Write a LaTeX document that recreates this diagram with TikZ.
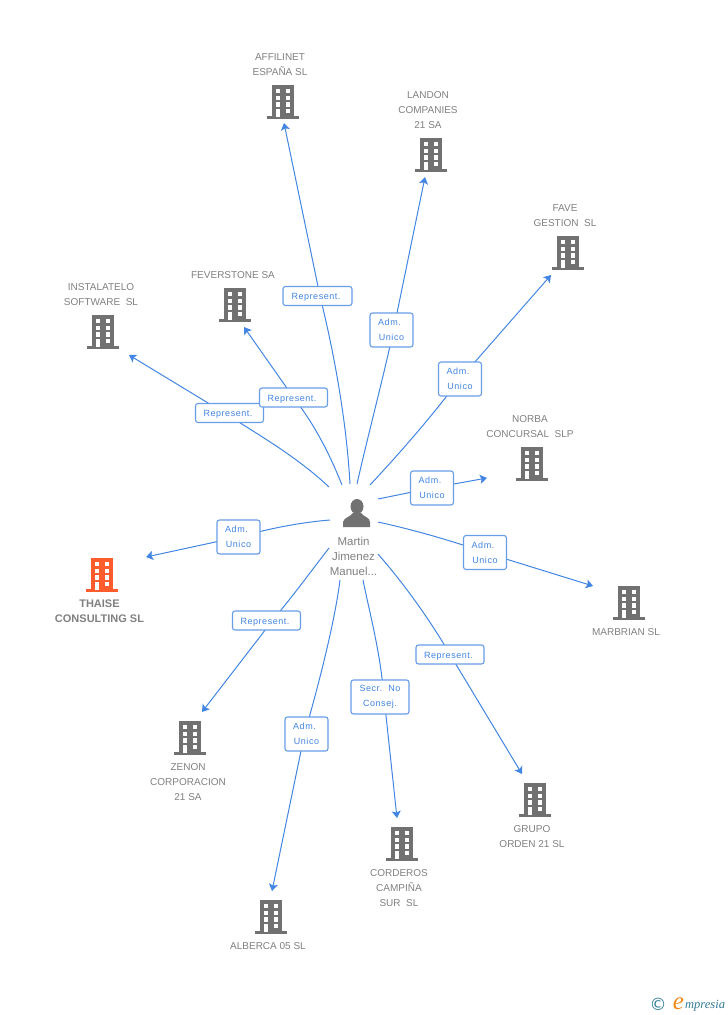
\documentclass[tikz,border=0pt]{standalone}
\usepackage{fontspec}
\setmainfont{Liberation Sans}
\newfontfamily\lblfont[LetterSpace=6]{Liberation Sans}
\newfontfamily\logofont{Liberation Serif}
\newfontfamily\copyfont{DejaVu Sans}
\definecolor{bgray}{HTML}{717171}
\definecolor{tgray}{HTML}{808080}
\definecolor{lblue}{HTML}{4285E2}
\definecolor{forange}{HTML}{FF5C2E}
\definecolor{logot}{HTML}{2F7C96}
\definecolor{logoo}{HTML}{F08A1D}
\usetikzlibrary{arrows.meta,backgrounds}
\tikzset{
  conn/.style={draw=lblue,line width=1pt},
  arr/.style={conn,-{Stealth[length=7pt,width=9pt,inset=1.5pt]}},
  lbl/.style={draw=lblue!80,line width=1.1pt,fill=white,rounded corners=2.5pt,text=lblue,
    font=\lblfont\fontsize{9}{15}\selectfont,align=center,inner sep=0pt},
  rep/.style={lbl,minimum width=68pt,minimum height=19pt},
  adm/.style={lbl,minimum width=43pt,minimum height=34pt},
  cname/.style={text=tgray,font=\fontsize{10}{15}\selectfont,align=center,inner sep=0pt},
}
\newcommand{\bld}[4]{% name, cx, top, colour
  \begin{scope}[shift={(#2,#3)}]
    \fill[#4] (-11,0) rectangle (11,31);
    \fill[#4] (-16,31) rectangle (16,33.5);
    \foreach \yy/\hh in {4.3/4,10.7/4.3,17.3/4.4,23.7/4.6}{
      \fill[white] (2.7,\yy) rectangle ++(4.6,\hh);
    }
    \foreach \yy/\hh in {4.3/4,10.7/4.3,17.3/4.4,23.7/8}{
      \fill[white] (-7.3,\yy) rectangle ++(4.6,\hh);
    }
    \node[inner sep=0pt,minimum width=32pt,minimum height=33pt] (#1) at (0,16.5) {};
  \end{scope}}
\newcommand{\rp}{\rule{0pt}{9.5pt}Represent.\hspace*{3pt}}
\newcommand{\adu}{\hspace*{-3pt}Adm.\hspace*{1pt}\\Unico}
\begin{document}
\begin{tikzpicture}[x=1pt,y=-1pt]
\useasboundingbox (0,0) rectangle (728,1015);

% buildings
\bld{affilinet}{283}{85}{bgray}
\bld{landon}{431}{138}{bgray}
\bld{fave}{568}{236}{bgray}
\bld{norba}{532}{447}{bgray}
\bld{feverstone}{235}{288}{bgray}
\bld{instalatelo}{103}{315}{bgray}
\bld{thaise}{102}{558}{forange}
\bld{marbrian}{629}{586}{bgray}
\bld{grupo}{535}{783}{bgray}
\bld{corderos}{402}{827}{bgray}
\bld{alberca}{271}{900}{bgray}
\bld{zenon}{190}{721}{bgray}

% building names
\node[cname] (naffilinet) at (280,64.5) {AFFILINET\\ESPAÑA SL};
\node[cname] (nlandon) at (428,110) {LANDON\\COMPANIES\\21 SA};
\node[cname] (nfave) at (565,215.5) {FAVE\\GESTION\ \ SL};
\node[cname] (nnorba) at (530,426.5) {NORBA\\CONCURSAL\ \ SLP};
\node[cname] (nfeverstone) at (233,275) {FEVERSTONE SA};
\node[cname] (ninstalatelo) at (101,294.5) {INSTALATELO\\SOFTWARE\ \ SL};
\node[cname,font=\fontsize{11}{15}\selectfont\bfseries] (nthaise) at (99.5,611.5) {THAISE\\CONSULTING SL};
\node[cname] (nmarbrian) at (626,632.5) {MARBRIAN SL};
\node[cname] (ngrupo) at (532,837) {GRUPO\\ORDEN 21 SL};
\node[cname] (ncorderos) at (399,888.5) {CORDEROS\\CAMPIÑA\\SUR\ \ SL};
\node[cname] (nalberca) at (268,946.5) {ALBERCA 05 SL};
\node[cname] (nzenon) at (188,782.5) {ZENON\\CORPORACION\\21 SA};

% person
\fill[bgray] (357,506.5) ellipse (6.5 and 7.5);
\fill[bgray] (343,527) -- (343,522) .. controls (344,517.5) and (350,517) .. (353,513)
  -- (361,513) .. controls (364,517) and (370,517.5) .. (370,522) -- (370,527) -- cycle;
\node[inner sep=0pt,minimum width=28pt,minimum height=28pt] (person) at (357,513) {};
\node[cname,font=\fontsize{11.5}{15}\selectfont] (nperson) at (353.5,556.5) {Martin\\Jimenez\\Manuel...};

% connector ends
\coordinate (s1) at (350,484);
\coordinate (e1) at (284,123);
\coordinate (s2) at (357,484);
\coordinate (e2) at (425,177);
\coordinate (s3) at (370,485);
\coordinate (e3) at (551,275);
\coordinate (s4) at (378,499);
\coordinate (e4) at (487,478);
\coordinate (s5) at (378,522);
\coordinate (e5) at (593,586);
\coordinate (s6) at (378,554);
\coordinate (e6) at (522,774);
\coordinate (s7) at (363,580);
\coordinate (e7) at (397,818);
\coordinate (s8) at (340,580);
\coordinate (e8) at (272,891);
\coordinate (s9) at (329,548);
\coordinate (e9) at (202,712);
\coordinate (s10) at (330,520);
\coordinate (e10) at (146,557);
\coordinate (s11) at (329,487);
\coordinate (e11) at (129,355);
\coordinate (s12) at (342,485);
\coordinate (e12) at (244,327);

% labels
\node[rep,minimum width=69pt] (l1) at (317.5,296) {\rp};
\node[adm] (l2) at (391.5,330) {\adu};
\node[adm] (l3) at (460,379) {\adu};
\node[adm] (l4) at (432,488) {\adu};
\node[adm] (l5) at (485,552.5) {\adu};
\node[rep] (l6) at (450,654.5) {\rp};
\node[lbl,minimum width=58pt,minimum height=34pt] (l7) at (380,697) {Secr.\ \ No\\Consej.};
\node[adm] (l8) at (306.5,734) {\adu};
\node[rep] (l9) at (266.5,620.5) {\rp};
\node[adm] (l10) at (238.5,537) {\adu};
\node[rep] (l11) at (229.5,413) {\rp};
\node[rep] (l12) at (293.5,397.5) {\rp};

% connectors
\begin{scope}[on background layer]
\draw[conn] (s1) .. controls (347,430) and (337,365) .. ([xshift=2.5pt]l1.center);
\draw[arr] ([xshift=2.5pt]l1.center) -- (e1);
\draw[conn] (s2) .. controls (368,435) and (384,375) .. ([xshift=2pt]l2.center);
\draw[arr] ([xshift=2pt]l2.center) -- (e2);
\draw[conn] (s3) .. controls (395,458) and (425,425) .. (l3.center);
\draw[arr] (l3.center) -- (e3);
\draw[conn] (s4) -- (l4.center);
\draw[arr] (l4.center) -- (e4);
\draw[conn] (s5) .. controls (410,529) and (450,540) .. (l5.center);
\draw[arr] (l5.center) -- (e5);
\draw[conn] (s6) .. controls (405,585) and (430,620) .. (l6.center);
\draw[arr] (l6.center) -- (e6);
\draw[conn] (s7) .. controls (370,615) and (380,650) .. ([xshift=4pt]l7.center);
\draw[arr] ([xshift=4pt]l7.center) -- (e7);
\draw[conn] (s8) .. controls (335,620) and (320,680) .. ([xshift=-2pt]l8.center);
\draw[arr] ([xshift=-2pt]l8.center) -- (e8);
\draw[conn] (s9) .. controls (312,570) and (296,592) .. ([xshift=6pt]l9.center);
\draw[arr] ([xshift=6pt]l9.center) -- (e9);
\draw[conn] (s10) .. controls (305,522) and (275,527) .. (l10.center);
\draw[arr] (l10.center) -- (e10);
\draw[conn] (s11) .. controls (295,455) and (255,433) .. ([yshift=-3pt]l11.center);
\draw[arr] ([yshift=-3pt]l11.center) -- (e11);
\draw[conn] (s12) .. controls (330,455) and (315,425) .. (l12.center);
\draw[arr] (l12.center) -- (e12);
\end{scope}

% logo
\node[inner sep=0pt,text=logot,font=\copyfont\fontsize{17}{17}\selectfont] (logoc) at (658,1004) {©};
\node[inner sep=0pt,anchor=base,text=logoo,font=\logofont\fontsize{25}{25}\selectfont\itshape] (logoe) at (678.5,1009) {e};
\node[inner sep=0pt,anchor=base west,text=logot,font=\logofont\fontsize{12.5}{13}\selectfont\itshape] (logor) at (685,1008.5) {mpresia};
\end{tikzpicture}
\end{document}
